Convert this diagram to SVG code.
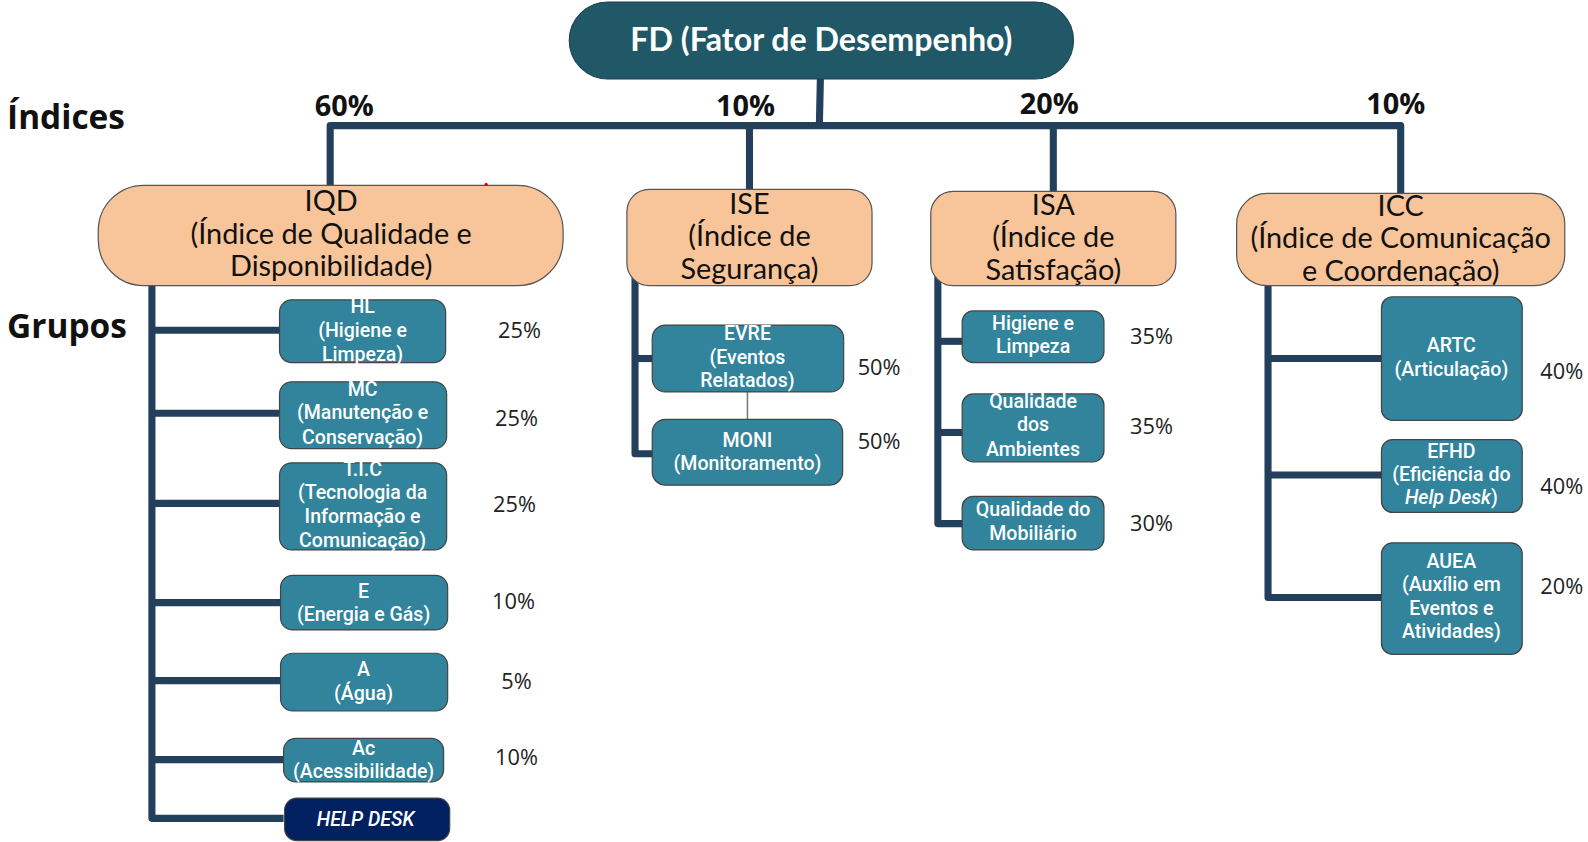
<svg xmlns="http://www.w3.org/2000/svg" width="1588" height="842" viewBox="0 0 1588 842">
<style>
.bg{fill:#ffffff}
.top{fill:#215868;stroke:#1a3f4d;stroke-width:1}
.idx{fill:#F8C59A;stroke:#555;stroke-width:1.2}
.grp{fill:#31849B;stroke:#444;stroke-width:1.2}
.hd{fill:#002060;stroke:#444;stroke-width:1.2}
.conn{fill:none;stroke:#223F5B;stroke-width:7;stroke-linejoin:round;stroke-linecap:butt}
.thin{fill:none;stroke:#777;stroke-width:1.5}
.ttop{font-family:Lato,"Liberation Sans",sans-serif;font-weight:700;font-size:31.8px;fill:#fff;text-anchor:middle}
.tidx{font-family:Lato,"Liberation Sans",sans-serif;font-size:28.5px;fill:#111;text-anchor:middle}
.tgrp{font-family:Roboto,"Liberation Sans",sans-serif;font-weight:500;font-size:19.3px;fill:#fff;text-anchor:middle}
.pct{font-family:"Open Sans","Liberation Sans",sans-serif;font-size:21.5px;fill:#222;text-anchor:middle}
.pctb{font-family:"Open Sans","Liberation Sans",sans-serif;font-weight:700;font-size:28.5px;fill:#111;text-anchor:middle}
.lbl{font-family:"Open Sans","Liberation Sans",sans-serif;font-weight:700;font-size:33px;fill:#111}
</style>
<rect class="bg" x="0" y="0" width="1588" height="842"/>
<g id="diagram" transform="scale(1.0128)">
<g id="connectors">
  <path class="conn" d="M810 78 L809 124"/>
  <path class="conn" d="M326 186 L326 124 L1383 124 L1383 192"/>
  <path class="conn" d="M740 124 L740 188"/>
  <path class="conn" d="M1040 124 L1040 190"/>
  <path class="conn" d="M150 282 L150 808 L280 808"/>
  <path class="conn" d="M150 326 L278 326"/>
  <path class="conn" d="M150 408 L278 408"/>
  <path class="conn" d="M150 497 L278 497"/>
  <path class="conn" d="M150 595 L279 595"/>
  <path class="conn" d="M150 672 L279 672"/>
  <path class="conn" d="M150 750 L282 750"/>
  <path class="conn" d="M627 273 L627 448 L646 448"/>
  <path class="conn" d="M627 354 L646 354"/>
  <path class="thin" d="M738 387 L738 414"/>
  <path class="conn" d="M926 273 L926 517 L952 517"/>
  <path class="conn" d="M926 337 L952 337"/>
  <path class="conn" d="M926 427 L952 427"/>
  <path class="conn" d="M1252 280 L1252 590 L1366 590"/>
  <path class="conn" d="M1252 354 L1366 354"/>
  <path class="conn" d="M1252 469 L1366 469"/>
</g>

<g id="labels">
  <text class="lbl" x="7" y="127">Índices</text>
  <text class="lbl" x="7" y="334">Grupos</text>
  <text class="pctb" x="340" y="115">60%</text>
  <text class="pctb" x="736" y="115">10%</text>
  <text class="pctb" x="1036" y="113">20%</text>
  <text class="pctb" x="1378" y="113">10%</text>
</g>

<g id="fd">
  <rect class="top" x="562" y="2" width="498" height="76" rx="38"/>
  <text class="ttop" x="811" y="50">FD (Fator de Desempenho)</text>
</g>

<g id="iqd">
  <rect class="idx" x="97" y="183" width="459" height="99" rx="45"/>
  <text class="tidx" x="327" y="208">IQD</text>
  <text class="tidx" x="327" y="241">(Índice de Qualidade e</text>
  <text class="tidx" x="327" y="273">Disponibilidade)</text>
</g>
<circle cx="480" cy="182" r="1.6" fill="#e00"/>
<g id="ise">
  <rect class="idx" x="619" y="187" width="242" height="95" rx="22"/>
  <text class="tidx" x="740" y="211">ISE</text>
  <text class="tidx" x="740" y="243">(Índice de</text>
  <text class="tidx" x="740" y="275">Segurança)</text>
</g>
<g id="isa">
  <rect class="idx" x="919" y="189" width="242" height="93" rx="22"/>
  <text class="tidx" x="1040" y="212">ISA</text>
  <text class="tidx" x="1040" y="244">(Índice de</text>
  <text class="tidx" x="1040" y="276">Satisfação)</text>
</g>
<g id="icc">
  <rect class="idx" x="1221" y="191" width="324" height="91" rx="30"/>
  <text class="tidx" x="1383" y="213">ICC</text>
  <text class="tidx" x="1383" y="245">(Índice de Comunicação</text>
  <text class="tidx" x="1383" y="277">e Coordenação)</text>
</g>

<g id="hl">
  <rect class="grp" x="276" y="296" width="164" height="62" rx="12"/>
  <text class="tgrp" x="358" y="309">HL</text>
  <text class="tgrp" x="358" y="333">(Higiene e</text>
  <text class="tgrp" x="358" y="356">Limpeza)</text>
  <text class="pct" x="513" y="334">25%</text>
</g>
<g id="mc">
  <rect class="grp" x="276" y="377" width="165" height="66" rx="12"/>
  <text class="tgrp" x="358" y="391">MC</text>
  <text class="tgrp" x="358" y="414">(Manutenção e</text>
  <text class="tgrp" x="358" y="438">Conservação)</text>
  <text class="pct" x="510" y="421">25%</text>
</g>
<g id="tic">
  <rect class="grp" x="276" y="457" width="165" height="86" rx="12"/>
  <text class="tgrp" x="358" y="470">T.I.C</text>
  <text class="tgrp" x="358" y="493">(Tecnologia da</text>
  <text class="tgrp" x="358" y="516">Informação e</text>
  <text class="tgrp" x="358" y="540">Comunicação)</text>
  <text class="pct" x="508" y="506">25%</text>
</g>
<g id="e">
  <rect class="grp" x="277" y="568" width="165" height="54" rx="12"/>
  <text class="tgrp" x="359" y="590">E</text>
  <text class="tgrp" x="359" y="613">(Energia e Gás)</text>
  <text class="pct" x="507" y="601">10%</text>
</g>
<g id="a">
  <rect class="grp" x="277" y="645" width="165" height="57" rx="12"/>
  <text class="tgrp" x="359" y="667">A</text>
  <text class="tgrp" x="359" y="691">(Água)</text>
  <text class="pct" x="510" y="680">5%</text>
</g>
<g id="ac">
  <rect class="grp" x="280" y="729" width="158" height="43" rx="12"/>
  <text class="tgrp" x="359" y="745">Ac</text>
  <text class="tgrp" x="359" y="768">(Acessibilidade)</text>
  <text class="pct" x="510" y="755">10%</text>
</g>
<g id="helpdesk">
  <rect class="hd" x="281" y="788" width="163" height="42" rx="12"/>
  <text class="tgrp" x="361" y="816" font-style="italic">HELP DESK</text>
</g>

<g id="evre">
  <rect class="grp" x="644" y="321" width="189" height="66" rx="13"/>
  <text class="tgrp" x="738" y="336">EVRE</text>
  <text class="tgrp" x="738" y="359">(Eventos</text>
  <text class="tgrp" x="738" y="382">Relatados)</text>
  <text class="pct" x="868" y="370">50%</text>
</g>
<g id="moni">
  <rect class="grp" x="644" y="414" width="188" height="65" rx="13"/>
  <text class="tgrp" x="738" y="441">MONI</text>
  <text class="tgrp" x="738" y="464">(Monitoramento)</text>
  <text class="pct" x="868" y="443">50%</text>
</g>

<g id="hl2">
  <rect class="grp" x="950" y="307" width="140" height="51" rx="11"/>
  <text class="tgrp" x="1020" y="326">Higiene e</text>
  <text class="tgrp" x="1020" y="349">Limpeza</text>
  <text class="pct" x="1137" y="340">35%</text>
</g>
<g id="qa">
  <rect class="grp" x="950" y="389" width="140" height="67" rx="11"/>
  <text class="tgrp" x="1020" y="403">Qualidade</text>
  <text class="tgrp" x="1020" y="426">dos</text>
  <text class="tgrp" x="1020" y="450">Ambientes</text>
  <text class="pct" x="1137" y="429">35%</text>
</g>
<g id="qm">
  <rect class="grp" x="950" y="490" width="140" height="53" rx="11"/>
  <text class="tgrp" x="1020" y="509">Qualidade do</text>
  <text class="tgrp" x="1020" y="533">Mobiliário</text>
  <text class="pct" x="1137" y="524">30%</text>
</g>

<g id="artc">
  <rect class="grp" x="1364" y="293" width="139" height="122" rx="11"/>
  <text class="tgrp" x="1433" y="348">ARTC</text>
  <text class="tgrp" x="1433" y="371">(Articulação)</text>
  <text class="pct" x="1542" y="374">40%</text>
</g>
<g id="efhd">
  <rect class="grp" x="1364" y="434" width="139" height="72" rx="11"/>
  <text class="tgrp" x="1433" y="452">EFHD</text>
  <text class="tgrp" x="1433" y="475">(Eficiência do</text>
  <text class="tgrp" x="1433" y="498"><tspan font-style="italic">Help Desk</tspan>)</text>
  <text class="pct" x="1542" y="488">40%</text>
</g>
<g id="auea">
  <rect class="grp" x="1364" y="536" width="139" height="110" rx="11"/>
  <text class="tgrp" x="1433" y="561">AUEA</text>
  <text class="tgrp" x="1433" y="584">(Auxílio em</text>
  <text class="tgrp" x="1433" y="607">Eventos e</text>
  <text class="tgrp" x="1433" y="630">Atividades)</text>
  <text class="pct" x="1542" y="586">20%</text>
</g>
</g>
</svg>
